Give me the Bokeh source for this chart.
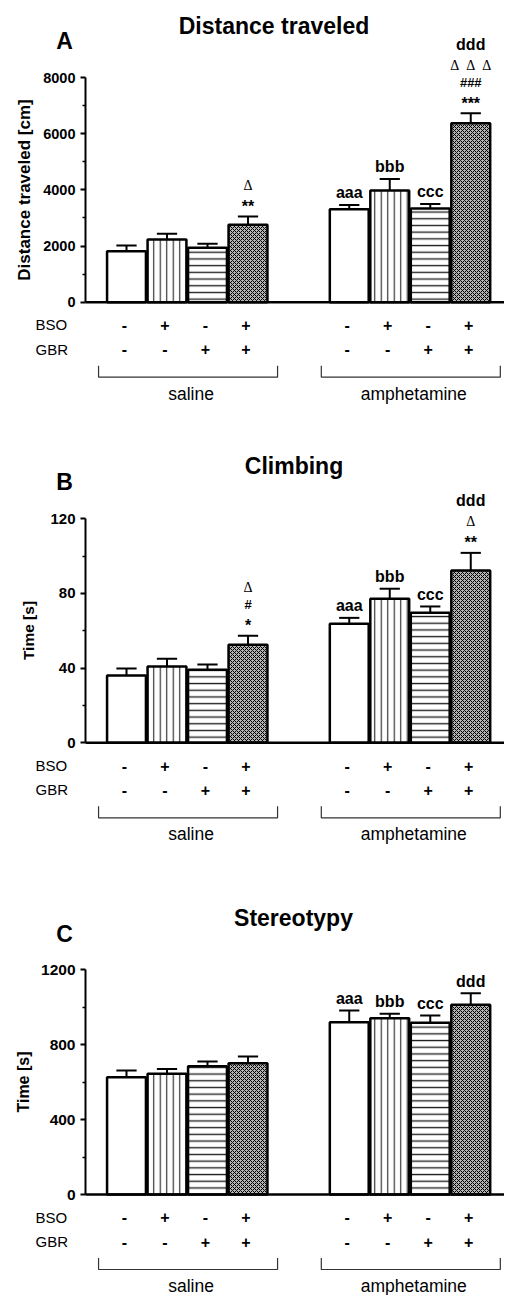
from bokeh.plotting import figure
from bokeh.layouts import column
from bokeh.models import Range1d, LinearAxis, FixedTicker, ColumnDataSource
from bokeh.core.properties import value
from bokeh.embed import file_html
from bokeh.resources import INLINE

# ---------------- data ----------------
groups = ["saline", "amphetamine"]
bso_signs = ["-", "+", "-", "+"]
gbr_signs = ["-", "-", "+", "+"]
row_labels = ["BSO", "GBR"]

titles = ["Distance traveled", "Climbing", "Stereotypy"]
letters = ["A", "B", "C"]
ylabels = ["Distance traveled [cm]", "Time [s]", "Time [s]"]

dist_mean = [1815, 2230, 1935, 2755, 3310, 3975, 3335, 6370]
dist_sem = [205, 205, 145, 295, 155, 415, 165, 355]
climb_mean = [36.0, 40.9, 39.1, 52.5, 63.7, 77.1, 69.6, 92.3]
climb_sem = [3.8, 4.1, 2.8, 4.8, 3.2, 5.4, 3.4, 9.4]
stereo_mean = [626, 644, 684, 700, 919, 940, 916, 1012]
stereo_sem = [35, 26, 25, 36, 62, 24, 39, 62]

dist_marks = [[], [], [], ["**", "Δ"], ["aaa"], ["bbb"], ["ccc"],
              ["***", "###", "Δ\u2002Δ\u2002Δ", "ddd"]]
climb_marks = [[], [], [], ["*", "#", "Δ"], ["aaa"], ["bbb"], ["ccc"],
               ["**", "Δ", "ddd"]]
stereo_marks = [[], [], [], [], ["aaa"], ["bbb"], ["ccc"], ["ddd"]]

dist_ticks = [0, 2000, 4000, 6000, 8000]
dist_minor = [1000, 3000, 5000, 7000]
climb_ticks = [0, 40, 80, 120]
climb_minor = [20, 60, 100]
stereo_ticks = [0, 400, 800, 1200]
stereo_minor = [200, 600, 1000]

bar_styles = ["plain", "vertical", "horizontal", "checker"]

# ---------------- layout ----------------
W = 504
PX_X = 40.5          # pixels per bar slot
X0_PAGE = 126        # page x of first bar centre
AXIS_PAGE = 85       # page x of the y axis
xs = [g * 5.5 + i for g in range(len(groups)) for i in range(len(bso_signs))]


def dx(page_x):
    return (page_x - X0_PAGE) / PX_X


FONT = "Liberation Sans"
SERIF = "Liberation Serif"


def panel(k, means, sems, marks, ticks, minor, fig_top, fig_h, zero_page, ppu,
          title_xc, tick_size, label_size, label_standoff):
    y_top = (zero_page - fig_top) / ppu
    y_bot = -(fig_top + fig_h - zero_page) / ppu
    p = figure(width=W, height=fig_h,
               x_range=Range1d(dx(0), dx(W)),
               y_range=Range1d(y_bot, y_top),
               x_axis_type=None, y_axis_type=None,
               output_backend="svg", toolbar_location=None,
               min_border_left=0, min_border_right=0,
               min_border_top=0, min_border_bottom=0)
    p.outline_line_color = None
    p.background_fill_color = "white"

    ax = LinearAxis(bounds=(ticks[0], ticks[-1]),
                    ticker=FixedTicker(ticks=ticks, minor_ticks=minor),
                    axis_label=ylabels[k], fixed_location=dx(AXIS_PAGE))
    ax.axis_line_width = 2
    ax.major_tick_line_width = 2
    ax.minor_tick_line_width = 1.5
    ax.major_tick_out = 5
    ax.major_tick_in = 0
    ax.minor_tick_out = 3
    ax.minor_tick_in = 0
    ax.major_label_standoff = 5
    ax.major_label_text_font = FONT
    ax.major_label_text_font_style = "bold"
    ax.major_label_text_font_size = f"{tick_size}px"
    ax.major_label_text_color = "black"
    ax.axis_label_text_font = FONT
    ax.axis_label_text_font_style = "bold"
    ax.axis_label_text_font_size = f"{label_size}px"
    ax.axis_label_text_color = "black"
    ax.axis_label_standoff = label_standoff
    p.add_layout(ax, "left")

    # bars
    for si, style in enumerate(bar_styles):
        idx = [i for i in range(len(xs)) if i % len(bar_styles) == si]
        src = ColumnDataSource(dict(x=[xs[i] for i in idx], top=[means[i] for i in idx]))
        kw = dict(x="x", top="top", bottom=0, width=0.96, source=src,
                  fill_color="white", line_color="black", line_width=2.5)
        if style == "vertical":
            kw.update(hatch_pattern="vertical_line", hatch_scale=6.5,
                      hatch_weight=1.2, hatch_color="#333333")
        elif style == "horizontal":
            kw.update(hatch_pattern="horizontal_line", hatch_scale=6.7,
                      hatch_weight=1.4, hatch_color="#222222")
        elif style == "checker":
            kw.update(fill_color="#b4b4b4", hatch_pattern="diagonal_cross",
                      hatch_scale=4, hatch_weight=1.0, hatch_color="#000000")
        p.vbar(**kw)

    # error bars (upper only)
    tops = [m + s for m, s in zip(means, sems)]
    p.segment(x0=xs, y0=means, x1=xs, y1=tops, line_color="black", line_width=2)
    p.segment(x0=[x - 0.25 for x in xs], y0=tops, x1=[x + 0.25 for x in xs], y1=tops,
              line_color="black", line_width=2)

    # x axis line from the y axis to the right edge
    p.segment(x0=[dx(AXIS_PAGE)], y0=[0], x1=[dx(W)], y1=[0],
              line_color="black", line_width=2.5)

    # significance marks
    ax_, ay_, at_, ao_, af_, asz_, ast_ = [], [], [], [], [], [], []
    for i, lst in enumerate(marks):
        off = 0
        for j, t in enumerate(lst):
            if j == 0:
                off = 12 if t[0].isalpha() else 14
            else:
                off += 21 if t == "ddd" else 17
            adj = 4 if t[0] == "*" else 0
            ax_.append(xs[i])
            ay_.append(tops[i])
            at_.append(t)
            ao_.append(-off + adj)
            if t[0] == "Δ":
                af_.append(SERIF); asz_.append("14px"); ast_.append("normal")
            elif t[0] == "#":
                af_.append(FONT); asz_.append("13px"); ast_.append("bold")
            else:
                af_.append(FONT); asz_.append("16px"); ast_.append("bold")
    msrc = ColumnDataSource(dict(x=ax_, y=ay_, text=at_, yo=ao_, font=af_,
                                 size=asz_, fstyle=ast_))
    p.text(x="x", y="y", text="text", y_offset="yo", source=msrc,
           text_font="font", text_font_size="size", text_font_style="fstyle",
           text_align="center", text_baseline="middle", text_color="black")

    # treatment rows
    sx, sy, st = [], [], []
    for r, signs in enumerate([bso_signs, gbr_signs]):
        for g in range(len(groups)):
            for i, s in enumerate(signs):
                sx.append(xs[g * len(signs) + i] - 2 / PX_X)
                sy.append(-(22.7 + 24.3 * r) / ppu)
                st.append(s)
    p.text(x=sx, y=sy, text=st, text_font=value(FONT), text_font_size="16px",
           text_font_style="bold", text_align="center", text_baseline="middle",
           text_color="black")
    p.text(x=[dx(35)] * len(row_labels),
           y=[-(22.7 + 24.3 * r) / ppu for r in range(len(row_labels))],
           text=row_labels, text_font=value(FONT), text_font_size="15px",
           text_align="left", text_baseline="middle", text_color="black")

    # brackets + group names
    n = len(bso_signs)
    bx, by, gx, gy = [], [], [], []
    for g in range(len(groups)):
        x0 = xs[g * n] - 0.69
        x1 = xs[g * n + n - 1] + 0.73
        yt = -63.5 / ppu
        yb = -75 / ppu
        bx.append([x0, x0, x1, x1])
        by.append([yt, yb, yb, yt])
        gx.append((x0 + x1) / 2 + 3 / PX_X)
        gy.append(-91.5 / ppu)
    p.multi_line(xs=bx, ys=by, line_color="#333333", line_width=1.2)
    p.text(x=gx, y=gy, text=groups, text_font=value(FONT), text_font_size="17.5px",
           text_align="center", text_baseline="middle", text_color="black")

    # title and panel letter
    p.text(x=[dx(title_xc), dx(64)], y=[276.5 / ppu, 261 / ppu],
           text=[titles[k], letters[k]], text_font=value(FONT),
           text_font_size="23px", text_font_style="bold", text_align="center",
           text_baseline="middle", text_color="black")
    return p


pA = panel(0, dist_mean, dist_sem, dist_marks, dist_ticks, dist_minor,
           0, 438, 301.7, 224.7 / 8000, 273.5, 14.5, 17, 6)
pB = panel(1, climb_mean, climb_sem, climb_marks, climb_ticks, climb_minor,
           438, 424, 742.3, 1.8675, 293.5, 15, 15.5, 10)
pC = panel(2, stereo_mean, stereo_sem, stereo_marks, stereo_ticks, stereo_minor,
           862, 433, 1194, 0.1875, 293, 15.5, 16, 6)

layout = column(pA, pB, pC, spacing=0)
open("out.html", "w").write(file_html(layout, INLINE))
